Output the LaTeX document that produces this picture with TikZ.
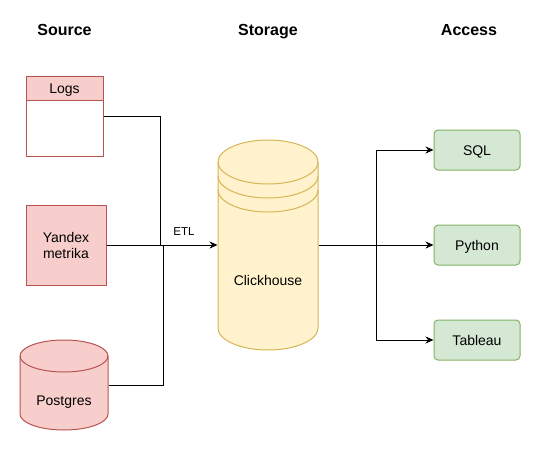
\documentclass[tikz,border=0pt]{standalone}
\usepackage{fontspec}
\setmainfont{Liberation Sans}
\usetikzlibrary{arrows.meta}
\definecolor{redfill}{HTML}{F8CECC}
\definecolor{redline}{HTML}{B85450}
\definecolor{yelfill}{HTML}{FFF2CC}
\definecolor{yelline}{HTML}{D6B656}
\definecolor{grnfill}{HTML}{D5E8D4}
\definecolor{grnline}{HTML}{82B366}

\begin{document}
\begin{tikzpicture}[x=1pt, y=-1pt, line width=1pt,
    every node/.style={font=\fontsize{14}{16}\selectfont},
    header/.style={font=\fontsize{16}{19}\selectfont\bfseries, anchor=base},
    capsmid/.style={text height=10pt, text depth=0pt},
    srcbox/.style={draw=redline, fill=redfill, inner sep=0pt, minimum width=77pt},
    accbox/.style={draw=grnline, fill=grnfill, rounded corners=4pt, capsmid,
      minimum width=86pt, minimum height=40pt},
    dbbody/.style={inner sep=0pt},
    link/.style={-{Stealth[length=8pt, width=7pt]}}]
  \useasboundingbox (0,0) rectangle (540,452);

  % column titles
  \node[header] (hsource) at (64.5,36) {Source};
  \node[header] (hstorage) at (268,36) {Storage};
  \node[header] (haccess) at (469,36) {Access};

  % sources
  \node[srcbox, fill=white, minimum height=80pt] (logs) at (64.5,116) {};
  \node[srcbox, capsmid, minimum height=24pt, anchor=north] (logshead) at (logs.north) {Logs};
  \node[srcbox, minimum width=80pt, minimum height=80pt, align=center] (ym) at (66,245)
    {Yandex\\metrika};

  \draw[draw=redline, fill=redfill] (20,356) -- (20,414)
    arc[start angle=180, end angle=360, x radius=44pt, y radius=16pt] -- (108,356)
    arc[start angle=0, end angle=180, x radius=44pt, y radius=16pt] -- cycle;
  \draw[redline] (20,356) arc[start angle=180, end angle=360, x radius=44pt, y radius=16pt];
  \node[dbbody, minimum width=88pt, minimum height=90pt] (pg) at (64,385) {};
  \node[capsmid] (pglabel) at (64,400) {Postgres};

  % storage
  \draw[draw=yelline, fill=yelfill] (218,162) -- (218,328)
    arc[start angle=180, end angle=360, x radius=50pt, y radius=22pt] -- (318,162)
    arc[start angle=0, end angle=180, x radius=50pt, y radius=22pt] -- cycle;
  \foreach \y in {162,176,190}
    \draw[yelline] (218,\y) arc[start angle=180, end angle=360, x radius=50pt, y radius=22pt];
  \node[dbbody, minimum width=100pt, minimum height=210pt] (ch) at (268,245) {};
  \node[capsmid] (chlabel) at (268,280) {Clickhouse};

  % access
  \node[accbox] (sql) at (477,150) {SQL};
  \node[accbox] (py) at (477,245) {Python};
  \node[accbox] (tab) at (477,340) {Tableau};

  % connectors
  \coordinate (merge) at (160,245);
  \coordinate (split) at (376,245);
  \draw (logs) -| (merge);
  \draw (pg) -| ([xshift=3pt]merge);
  \draw[link] (ym) -- (ch);
  \node[font=\fontsize{11.5}{13}\selectfont] (etl) at (184,232) {ETL};
  \draw[link] (ch) -- (py);
  \draw[link] (split) |- (sql);
  \draw[link] (split) |- (tab);
\end{tikzpicture}
\end{document}
